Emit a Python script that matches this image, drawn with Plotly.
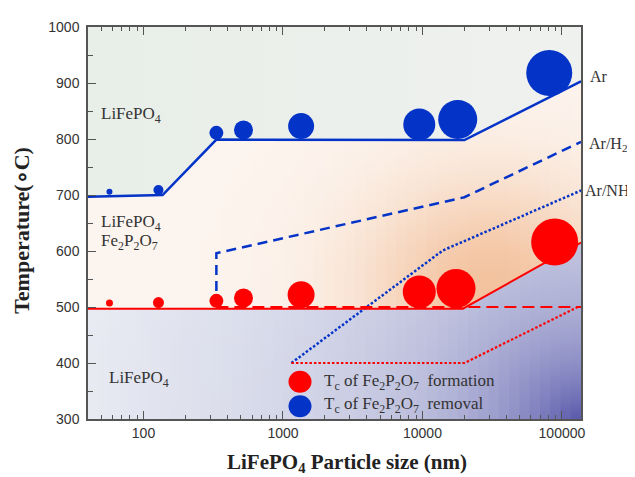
import math
import numpy as np
import plotly.graph_objects as go

# ---------------- data ----------------
blue_x = [57, 128, 333, 521, 1349, 9490, 17900, 81100]
blue_T = [706, 709, 811, 816, 823, 826, 835, 918]
blue_size = [6, 10, 14, 19, 26, 32, 39, 46]

red_x = [57, 128, 333, 521, 1349, 9490, 17400, 88700]
red_T = [507, 508, 511, 516, 522, 527, 533, 616]
red_size = [7, 11, 14, 19, 27, 33, 39, 47]

ar_x = [40, 137, 333, 20000, 137000]
ar_T = [697, 700, 799, 798, 903]
arh2_x = [333, 333, 20000, 137000]
arh2_T = [500, 596, 696, 795]
arnh3_x = [1150, 14000, 137000]
arnh3_T = [400, 601, 708]

form_x = [40, 19500, 137000]
form_T = [497, 497, 615]
form_h2_x = [333, 137000]
form_h2_T = [500, 500]
form_nh3_x = [1150, 20000, 130000]
form_nh3_T = [400, 400, 500]

x_range = [40, 137000]
T_range = [300, 1000]
x_tickvals = [100, 1000, 10000, 100000]
x_ticktext = ["100", "1000", "10000", "100000"]

BLUE = "#0433c8"
RED = "#ff0000"
SERIF = "Liberation Serif, Times New Roman, serif"
SANS = "Liberation Sans, Arial, sans-serif"

# page geometry (the page body has an 8px margin)
W, H = 627, 469
L, T = 80, 11
PW, PH = 493, 400
R, B = W - L - PW, H - T - PH
PX0, PY0 = 88, 19          # plot-area origin on the page

lo, hi = math.log10(x_range[0]), math.log10(x_range[1])

def page_x(lx):
    return PX0 + PW * (lx - lo) / (hi - lo)

def page_y(t):
    return PY0 + PH * (T_range[1] - t) / (T_range[1] - T_range[0])

def interp(xs, ys, lq):
    return np.interp(lq, np.log10(xs), ys)

fig = go.Figure()

# ---------------- background shading ----------------
def mix(c1, c2, f):
    f = min(max(f, 0.0), 1.0)
    return tuple(int(round(a + (b - a) * f)) for a, b in zip(c1, c2))

def mid_color(X, Y):
    g = math.exp(-((X - 490) / 130.0) ** 2 - ((Y - 282) / 110.0) ** 2)
    return mix((252, 244, 238), (243, 194, 158), g)

def bot_color(X, Y):
    d = math.hypot(X - (PX0 + PW), Y - (PY0 + PH))
    h = 0.75 * math.exp(-d / 90.0) + 0.25 * max(0.0, 1 - d / 500.0)
    return mix((232, 235, 242), (78, 78, 166), h)

# top region (above the Ar line): one gentle horizontal gradient
fig.add_trace(go.Scatter(
    x=ar_x + [x_range[1], x_range[0]], y=ar_T + [T_range[1], T_range[1]],
    mode="none", fill="toself",
    fillgradient=dict(type="horizontal", colorscale=[[0, "#e8eee8"], [1, "#eff1ef"]]),
    hoverinfo="skip", showlegend=False))

levels = np.arange(T_range[0], T_range[1] + 1, 25)
NSTRIP = 48
dl = (hi - lo) / NSTRIP

def strips(upper, lower, colfun):
    breaks = set()
    for bnd in (upper, lower):
        if bnd is not None:
            breaks |= set(np.log10(bnd[0]).tolist())
    breaks = sorted(breaks)
    for k in range(NSTRIP):
        la = lo + k * dl
        lb = min(hi, la + 1.5 * dl)
        pts = np.array([la] + [b for b in breaks if la < b < lb] + [lb])
        top = interp(upper[0], upper[1], pts) if upper is not None else np.full(len(pts), T_range[1])
        bot = interp(lower[0], lower[1], pts) if lower is not None else np.full(len(pts), T_range[0])
        xs = list(10 ** pts) + list(10 ** pts[::-1])
        ys = list(top) + list(bot[::-1])
        Xc = page_x(la + 0.5 * dl)
        cs = []
        for i, t in enumerate(levels):
            c = colfun(Xc, page_y(t))
            cs.append([i / (len(levels) - 1), "rgb(%d,%d,%d)" % c])
        fig.add_trace(go.Scatter(
            x=xs, y=ys, mode="none", fill="toself",
            fillgradient=dict(type="vertical", colorscale=cs,
                              start=T_range[0], stop=T_range[1]),
            hoverinfo="skip", showlegend=False))

strips((ar_x, ar_T), (form_x, form_T), mid_color)
strips((form_x, form_T), None, bot_color)

# ---------------- lines ----------------
def line(x, y, color, dash, width):
    fig.add_trace(go.Scatter(x=x, y=y, mode="lines",
                             line=dict(color=color, dash=dash, width=width),
                             hoverinfo="skip", showlegend=False))

line(ar_x, ar_T, BLUE, "solid", 2.5)
line(arh2_x, arh2_T, BLUE, "10px,6px", 2.5)
line(arnh3_x, arnh3_T, BLUE, "2.5px,2px", 2.5)
line(form_x, form_T, RED, "solid", 2)
line(form_h2_x, form_h2_T, RED, "12px,6px", 2.2)
line(form_nh3_x, form_nh3_T, RED, "2.5px,2px", 2.2)

# ---------------- bubbles ----------------
fig.add_trace(go.Scatter(x=red_x, y=red_T, mode="markers",
                         marker=dict(color=RED, size=red_size, line=dict(width=0), opacity=1),
                         name="Tc of Fe2P2O7 formation", showlegend=False))
fig.add_trace(go.Scatter(x=blue_x, y=blue_T, mode="markers",
                         marker=dict(color=BLUE, size=blue_size, line=dict(width=0), opacity=1),
                         name="Tc of Fe2P2O7 removal", showlegend=False))

# ---------------- text ----------------
def px(xp):
    return (xp - PX0) / PW

def py(yp):
    return (PY0 + PH - yp) / PH

annots = []
def txt(text, xp, yp, size=17, xanchor="left"):
    annots.append(dict(text=text, x=px(xp), y=py(yp), xref="paper", yref="paper",
                       xanchor=xanchor, yanchor="middle", showarrow=False,
                       font=dict(family=SERIF, size=size, color="#333333")))

txt("LiFePO<sub>4</sub>", 99, 109)
txt("LiFePO<sub>4</sub>", 99, 219)
txt("Fe<sub>2</sub>P<sub>2</sub>O<sub>7</sub>", 99, 238)
txt("LiFePO<sub>4</sub>", 107, 378)
txt("Ar", 588, 70, size=16)
txt("Ar/H<sub>2</sub>", 587, 139, size=16)
txt("Ar/NH<sub>3</sub>", 583, 187, size=16)
txt("T<sub>c</sub> of Fe<sub>2</sub>P<sub>2</sub>O<sub>7</sub>  formation", 322, 381)
txt("T<sub>c</sub> of Fe<sub>2</sub>P<sub>2</sub>O<sub>7</sub>  removal", 322, 405)

annots.append(dict(text="<b>LiFePO<sub>4</sub> Particle size (nm)</b>", x=px(347), y=py(464),
                   xref="paper", yref="paper", xanchor="center", yanchor="middle",
                   showarrow=False, font=dict(family=SERIF, size=21, color="#222222")))
annots.append(dict(text="<b>Temperature(∘C)</b>", x=px(22), y=py(227), textangle=-90,
                   xref="paper", yref="paper", xanchor="center", yanchor="middle",
                   showarrow=False, font=dict(family=SERIF, size=22, color="#222222")))

# legend symbols
shapes = []
for col, yc in [(RED, 381), (BLUE, 406)]:
    shapes.append(dict(type="circle", xref="paper", yref="paper",
                       xsizemode="pixel", ysizemode="pixel",
                       xanchor=px(300), yanchor=py(yc),
                       x0=-11.5, x1=11.5, y0=-11, y1=11,
                       fillcolor=col, line=dict(width=0), layer="above"))

axis_common = dict(showgrid=False, zeroline=False, showline=True, linecolor="#555555",
                   linewidth=1.5, ticks="inside", tickcolor="#555555", tickwidth=1.2,
                   tickfont=dict(family=SANS, size=14, color="#333333"))

fig.update_layout(
    width=W, height=H,
    margin=dict(l=L, r=R, t=T, b=B),
    paper_bgcolor="white", plot_bgcolor="white",
    showlegend=False,
    annotations=annots, shapes=shapes,
    xaxis=dict(type="log", range=[lo, hi],
               tickvals=x_tickvals, ticktext=x_ticktext, ticklen=8, mirror="ticks",
               minor=dict(ticks="inside", ticklen=4, tickcolor="#555555", dtick="D1", showgrid=False),
               **axis_common),
    yaxis=dict(range=T_range, dtick=100, ticklen=8, mirror=True, ticklabelstandoff=4,
               minor=dict(ticks="inside", ticklen=5, tickcolor="#555555", dtick=50, showgrid=False),
               **axis_common),
)

fig.write_html("out.html")
